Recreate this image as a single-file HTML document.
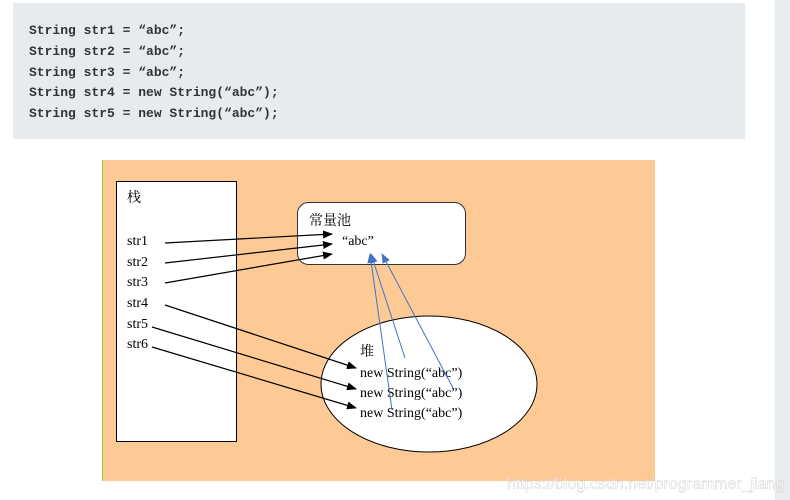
<!DOCTYPE html>
<html><head><meta charset="utf-8"><style>
body{margin:0;width:790px;height:500px;background:#fff;position:relative;overflow:hidden}
.code{position:absolute;left:13px;top:3px;width:732px;height:136px;background:#e8ebee}
.code pre{margin:0;position:absolute;left:16px;top:18px;font:bold 13px/20.8px "Liberation Mono","DejaVu Sans Mono",monospace;color:#333}
.sb{position:absolute;left:775px;top:0;width:15px;height:500px;background:#e9ecef}
svg{position:absolute;left:0;top:0}
</style></head><body>
<div class="code"><pre>String str1 = “abc”;
String str2 = “abc”;
String str3 = “abc”;
String str4 = new String(“abc”);
String str5 = new String(“abc”);</pre></div>
<div class="sb"></div>
<svg width="790" height="500" font-family="'Liberation Serif','Noto Serif CJK SC',serif" font-size="14">
<defs>
<marker id="a" markerWidth="10" markerHeight="8" refX="9" refY="4" orient="auto" markerUnits="userSpaceOnUse"><path d="M0,0L10,4L0,8z" fill="#000"/></marker>
<marker id="b" markerWidth="10" markerHeight="8" refX="9" refY="4" orient="auto" markerUnits="userSpaceOnUse"><path d="M0,0L10,4L0,8z" fill="#4472c4"/></marker>
</defs>
<rect x="102" y="160" width="553" height="321" fill="#fdca96"/>
<line x1="102.5" y1="160" x2="102.5" y2="481" stroke="#9c3" stroke-width="1"/>
<rect x="116.5" y="181.5" width="120" height="260" fill="#fff" stroke="#000"/>
<rect x="297.5" y="202.5" width="168" height="62" rx="11" fill="#fff" stroke="#333"/>
<ellipse cx="429" cy="384" rx="108" ry="68" fill="#fff" stroke="#000"/>
<g fill="#000">
<text x="127" y="202">栈</text>
<text x="127" y="245">str1</text><text x="127" y="266">str2</text><text x="127" y="286">str3</text>
<text x="127" y="307">str4</text><text x="127" y="328">str5</text><text x="127" y="348">str6</text>
<text x="309" y="225">常量池</text>
<text x="342" y="245">“abc”</text>
<text x="360" y="356">堆</text>
<text x="360" y="377">new String(“abc”)</text>
<text x="360" y="397">new String(“abc”)</text>
<text x="360" y="417">new String(“abc”)</text>
</g>
<g stroke="#000" stroke-width="1.2" fill="none">
<line x1="165" y1="243" x2="332" y2="234" marker-end="url(#a)"/>
<line x1="165" y1="263" x2="332" y2="244" marker-end="url(#a)"/>
<line x1="165" y1="283" x2="332" y2="254" marker-end="url(#a)"/>
<line x1="165" y1="305" x2="356" y2="368" marker-end="url(#a)"/>
<line x1="152" y1="327" x2="356" y2="389" marker-end="url(#a)"/>
<line x1="152" y1="347" x2="356" y2="408" marker-end="url(#a)"/>
</g>
<g stroke="#4472c4" stroke-width="1" fill="none">
<line x1="392" y1="410" x2="370" y2="254" marker-end="url(#b)"/>
<line x1="405" y1="358" x2="371" y2="254" marker-end="url(#b)"/>
<line x1="453" y1="388" x2="382" y2="254" marker-end="url(#b)"/>
</g>
<text x="507" y="489" font-family="'Liberation Sans',sans-serif" font-size="16" fill="#fff" fill-opacity="0.75" stroke="#bbb" stroke-width="0.3">https://blog.csdn.net/programmer_jiang</text>
</svg>
</body></html>
